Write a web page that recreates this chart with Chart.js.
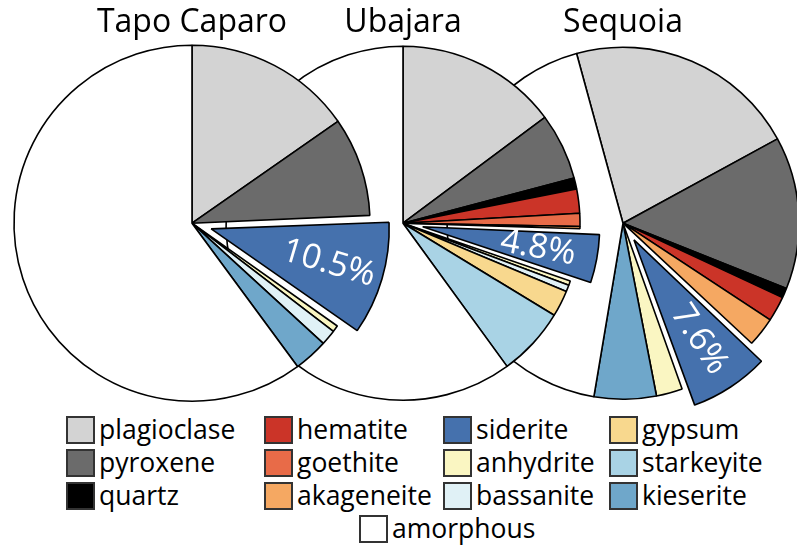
<!DOCTYPE html>
<html>
<head>
<meta charset="utf-8">
<script src="https://cdn.jsdelivr.net/npm/chart.js@4.4.1/dist/chart.umd.min.js"></script>
<style>
  body { margin: 0; background: #fff; }
  .page { position: relative; width: 797px; height: 545px; overflow: hidden; font-family: "Open Sans", sans-serif; }
  .pie { position: absolute; top: 2px; }
  .legend { position: absolute; left: 66px; top: 413px; display: grid;
    grid-template-columns: 198px 179px 166px auto; grid-template-rows: repeat(3, 33px); grid-auto-flow: column; }
  .item { display: flex; align-items: center; font-size: 26.5px; line-height: 33px; color: #000; white-space: nowrap; }
  .swatch { width: 25px; height: 24px; border: 2px solid #333; margin-right: 4px; flex: none; }
  .last { position: absolute; left: 359px; top: 512px; }
</style>
</head>
<body>
<div class="page">
  <div class="pie" id="p3" style="left:413px; z-index:1"><canvas id="c3" width="420" height="440"></canvas></div>
  <div class="pie" id="p2" style="left:193px; z-index:2"><canvas id="c2" width="420" height="440"></canvas></div>
  <div class="pie" id="p1" style="left:-18px; z-index:3"><canvas id="c1" width="420" height="440"></canvas></div>
  <div class="legend" id="legend"></div>
  <div class="item last" id="legendLast"></div>
</div>
<script>
const minerals = ["plagioclase", "pyroxene", "quartz", "hematite", "goethite", "akageneite",
  "siderite", "anhydrite", "bassanite", "gypsum", "starkeyite", "kieserite", "amorphous"]
const colors = ["#d3d3d3", "#6b6b6b", "#000000", "#cb3428", "#e86b48", "#f5a862",
  "#4571ad", "#faf6c2", "#e0f1f6", "#f8d88e", "#a9d3e5", "#6fa7ca", "#ffffff"]

const sites = ["Tapo Caparo", "Ubajara", "Sequoia"]
const tapoCaparo = [15.3, 9.0, 0, 0, 0, 0, 10.5, 0.6, 1.4, 0, 0, 3.1, 60.1]
const ubajara = [14.8, 6.1, 1.0, 2.2, 1.2, 0.2, 4.8, 0.4, 0.6, 2.4, 6.3, 0, 60.0]
const sequoia = [21.3, 14.0, 0.9, 2.3, 0, 2.7, 7.6, 2.4, 0, 0, 0, 5.7, 43.1]
const highlight = "siderite"

const sid = minerals.indexOf(highlight)

// chart.js grows an offset slice a bit, keep it the same size as the pie
const keepRadius = {
  id: "keepRadius",
  afterDatasetUpdate(chart) {
    const arc = chart.getDatasetMeta(0).data[sid]
    const grow = (arc.options.offset / 4) * (1 - Math.sin(Math.min(Math.PI, arc.circumference)))
    arc.outerRadius -= grow
  }
}

// white percent label on the pulled-out slice
const sliceLabel = {
  id: "sliceLabel",
  afterDatasetsDraw(chart) {
    const arc = chart.getDatasetMeta(0).data[sid]
    const { x, y, startAngle, endAngle, outerRadius } = arc.getProps(["x", "y", "startAngle", "endAngle", "outerRadius"], true)
    const mid = (startAngle + endAngle) / 2
    const r = outerRadius * 0.72 + arc.options.offset / 4
    const ctx = chart.ctx
    ctx.save()
    ctx.translate(x + Math.cos(mid) * r, y + Math.sin(mid) * r)
    ctx.rotate(mid)
    ctx.fillStyle = "#fff"
    ctx.font = "34px 'Open Sans'"
    ctx.textAlign = "center"
    ctx.textBaseline = "middle"
    ctx.fillText(chart.data.datasets[0].data[sid] + "%", 0, 0)
    ctx.restore()
  }
}

function makePie(id, title, values, radius, rotation) {
  new Chart(document.getElementById(id), {
    type: "pie",
    data: {
      labels: minerals,
      datasets: [{
        data: values,
        backgroundColor: colors,
        borderColor: "#000",
        borderWidth: 1.6,
        offset: minerals.map(m => m == highlight ? 80 : 0),
        clip: false
      }]
    },
    options: {
      responsive: false,
      animation: false,
      radius: radius,
      rotation: rotation,
      layout: { padding: { bottom: 38 } },
      plugins: {
        legend: { display: false },
        tooltip: { enabled: false },
        title: {
          display: true,
          text: title,
          color: "#000",
          font: { family: "Open Sans", size: 32, weight: "normal" },
          padding: { top: 2, bottom: 0 }
        }
      }
    },
    plugins: [keepRadius, sliceLabel]
  })
}

makePie("c1", sites[0], tapoCaparo, 178, 0)
makePie("c2", sites[1], ubajara, 177, 0)
makePie("c3", sites[2], sequoia, 176, -15.3)

function legendItem(i) {
  const el = document.createElement("div")
  el.className = "item"
  el.innerHTML = '<span class="swatch" style="background:' + colors[i] + '"></span>' + minerals[i]
  return el
}

const legend = document.getElementById("legend")
for (let i = 0; i < minerals.length - 1; i++) {
  legend.appendChild(legendItem(i))
}
const lastEl = document.getElementById("legendLast")
lastEl.innerHTML = legendItem(minerals.length - 1).innerHTML
</script>
</body>
</html>
